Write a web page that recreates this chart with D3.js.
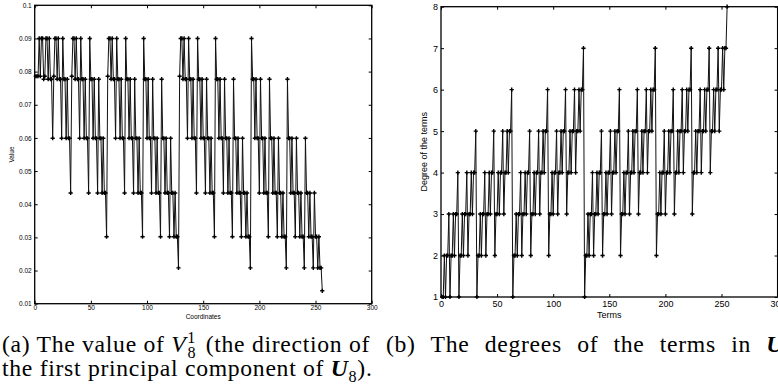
<!DOCTYPE html>
<html>
<head>
<meta charset="utf-8">
<script src="https://cdn.jsdelivr.net/npm/d3@7/dist/d3.min.js"></script>
<style>
  body { margin: 0; background: #fff; }
  svg { display: block; }
  .tick text { font-family: "Liberation Sans", Arial, sans-serif; fill: #000; }
  .tick line { stroke: #000; }
</style>
</head>
<body>
<svg id="fig" width="778" height="390"></svg>
<script>
// (a) value of V_8^1 at coordinates 1..256
const coordValues = [
  0.0786,0.0786,0.0786,0.0900,0.0786,0.0900,0.0900,0.0777,0.0786,0.0900,0.0900,0.0777,0.0900,0.0777,0.0777,0.0599,
  0.0786,0.0900,0.0900,0.0777,0.0900,0.0777,0.0777,0.0599,0.0900,0.0777,0.0777,0.0599,0.0777,0.0599,0.0599,0.0434,
  0.0786,0.0900,0.0900,0.0777,0.0900,0.0777,0.0777,0.0599,0.0900,0.0777,0.0777,0.0599,0.0777,0.0599,0.0599,0.0434,
  0.0900,0.0777,0.0777,0.0599,0.0777,0.0599,0.0599,0.0434,0.0777,0.0599,0.0599,0.0434,0.0599,0.0434,0.0434,0.0302,
  0.0786,0.0900,0.0900,0.0777,0.0900,0.0777,0.0777,0.0599,0.0900,0.0777,0.0777,0.0599,0.0777,0.0599,0.0599,0.0434,
  0.0900,0.0777,0.0777,0.0599,0.0777,0.0599,0.0599,0.0434,0.0777,0.0599,0.0599,0.0434,0.0599,0.0434,0.0434,0.0302,
  0.0900,0.0777,0.0777,0.0599,0.0777,0.0599,0.0599,0.0434,0.0777,0.0599,0.0599,0.0434,0.0599,0.0434,0.0434,0.0302,
  0.0777,0.0599,0.0599,0.0434,0.0599,0.0434,0.0434,0.0302,0.0599,0.0434,0.0434,0.0302,0.0434,0.0302,0.0302,0.0208,
  0.0786,0.0900,0.0900,0.0777,0.0900,0.0777,0.0777,0.0599,0.0900,0.0777,0.0777,0.0599,0.0777,0.0599,0.0599,0.0434,
  0.0900,0.0777,0.0777,0.0599,0.0777,0.0599,0.0599,0.0434,0.0777,0.0599,0.0599,0.0434,0.0599,0.0434,0.0434,0.0302,
  0.0900,0.0777,0.0777,0.0599,0.0777,0.0599,0.0599,0.0434,0.0777,0.0599,0.0599,0.0434,0.0599,0.0434,0.0434,0.0302,
  0.0777,0.0599,0.0599,0.0434,0.0599,0.0434,0.0434,0.0302,0.0599,0.0434,0.0434,0.0302,0.0434,0.0302,0.0302,0.0208,
  0.0900,0.0777,0.0777,0.0599,0.0777,0.0599,0.0599,0.0434,0.0777,0.0599,0.0599,0.0434,0.0599,0.0434,0.0434,0.0302,
  0.0777,0.0599,0.0599,0.0434,0.0599,0.0434,0.0434,0.0302,0.0599,0.0434,0.0434,0.0302,0.0434,0.0302,0.0302,0.0208,
  0.0777,0.0599,0.0599,0.0434,0.0599,0.0434,0.0434,0.0302,0.0599,0.0434,0.0434,0.0302,0.0434,0.0302,0.0302,0.0208,
  0.0599,0.0434,0.0434,0.0302,0.0434,0.0302,0.0302,0.0208,0.0434,0.0302,0.0302,0.0208,0.0302,0.0208,0.0208,0.0139
];

// (b) degree of terms 1..255
const termDegrees = [
  1,1,2,1,2,2,3,1,2,2,3,2,3,3,4,
  1,2,2,3,2,3,3,4,2,3,3,4,3,4,4,5,
  1,2,2,3,2,3,3,4,2,3,3,4,3,4,4,5,
  2,3,3,4,3,4,4,5,3,4,4,5,4,5,5,6,
  1,2,2,3,2,3,3,4,2,3,3,4,3,4,4,5,
  2,3,3,4,3,4,4,5,3,4,4,5,4,5,5,6,
  2,3,3,4,3,4,4,5,3,4,4,5,4,5,5,6,
  3,4,4,5,4,5,5,6,4,5,5,6,5,6,6,7,
  1,2,2,3,2,3,3,4,2,3,3,4,3,4,4,5,
  2,3,3,4,3,4,4,5,3,4,4,5,4,5,5,6,
  2,3,3,4,3,4,4,5,3,4,4,5,4,5,5,6,
  3,4,4,5,4,5,5,6,4,5,5,6,5,6,6,7,
  2,3,3,4,3,4,4,5,3,4,4,5,4,5,5,6,
  3,4,4,5,4,5,5,6,4,5,5,6,5,6,6,7,
  3,4,4,5,4,5,5,6,4,5,5,6,5,6,6,7,
  4,5,5,6,5,6,6,7,5,6,6,7,6,7,7,8
];

const xTicks = [0, 50, 100, 150, 200, 250, 300];
const yTicksA = [0.01, 0.02, 0.03, 0.04, 0.05, 0.06, 0.07, 0.08, 0.09, 0.1];
const yTicksB = [1, 2, 3, 4, 5, 6, 7, 8];

const svg = d3.select("#fig");

function panel(opt) {
  const x = d3.scaleLinear().domain([0, 300]).range([opt.left, opt.right]);
  const y = d3.scaleLinear().domain(opt.yDomain).range([opt.bottom, opt.top]);
  const g = svg.append("g");

  g.append("g").attr("transform", `translate(0,${opt.bottom})`)
    .call(d3.axisBottom(x).tickValues(xTicks).tickSize(-3).tickPadding(opt.xPad).tickFormat(d3.format("d")))
    .call(a => a.select(".domain").remove())
    .call(a => a.selectAll("text").style("font-size", opt.fs + "px"));
  g.append("g").attr("transform", `translate(0,${opt.top})`)
    .call(d3.axisTop(x).tickValues(xTicks).tickSize(-3).tickFormat(""))
    .call(a => a.select(".domain").remove());
  g.append("g").attr("transform", `translate(${opt.left},0)`)
    .call(d3.axisLeft(y).tickValues(opt.yTicks).tickSize(-3).tickPadding(opt.yPad).tickFormat(opt.yFmt))
    .call(a => a.select(".domain").remove())
    .call(a => a.selectAll("text").style("font-size", opt.fs + "px"));
  g.append("g").attr("transform", `translate(${opt.right},0)`)
    .call(d3.axisRight(y).tickValues(opt.yTicks).tickSize(-3).tickFormat(""))
    .call(a => a.select(".domain").remove());

  g.append("rect")
    .attr("x", opt.left).attr("y", opt.top)
    .attr("width", opt.right - opt.left).attr("height", opt.bottom - opt.top)
    .attr("fill", "none").attr("stroke", "#000").attr("stroke-width", 1.3);

  const line = d3.line().x(d => x(d[0])).y(d => y(d[1]));
  g.append("path").datum(opt.data)
    .attr("d", line).attr("fill", "none")
    .attr("stroke", "#111").attr("stroke-width", 1);

  g.selectAll("path.mk").data(opt.data).enter().append("path")
    .attr("class", "mk")
    .attr("transform", d => `translate(${x(d[0])},${y(d[1])})`)
    .attr("d", d3.symbol(d3.symbolCross, 10))
    .attr("fill", "#000");

  g.append("text")
    .attr("x", (opt.left + opt.right) / 2).attr("y", opt.xLabelY)
    .attr("text-anchor", "middle")
    .style("font-family", "Liberation Sans, Arial, sans-serif")
    .style("font-size", opt.fs + "px")
    .text(opt.xLabel);
  g.append("text")
    .attr("transform", `translate(${opt.yLabelX},${(opt.top + opt.bottom) / 2}) rotate(-90)`)
    .attr("text-anchor", "middle")
    .style("font-family", "Liberation Sans, Arial, sans-serif")
    .style("font-size", opt.fs + "px")
    .text(opt.yLabel);
}

panel({
  left: 34.7, right: 371.7, top: 5.3, bottom: 303.7,
  yDomain: [0.01, 0.1], yTicks: yTicksA, yFmt: d => String(d),
  data: coordValues.map((v, i) => [i + 1, v]),
  fs: 6.5, xPad: 2, yPad: 3,
  xLabel: "Coordinates", xLabelY: 318.5, yLabel: "Value", yLabelX: 14
});

panel({
  left: 441, right: 777.6, top: 6.7, bottom: 297,
  yDomain: [1, 8], yTicks: yTicksB, yFmt: d3.format("d"),
  data: termDegrees.map((v, i) => [i + 1, v]),
  fs: 9, xPad: 4, yPad: 3,
  xLabel: "Terms", xLabelY: 318, yLabel: "Degree of the terms", yLabelX: 427
});

// captions (Computer Modern is wider than Times, so add a little tracking)
const serif = "Liberation Serif, Times New Roman, serif";
function caption(fs) {
  const g = svg.append("g").attr("class", "cap")
    .style("font-family", serif).style("font-size", fs + "px")
    .style("letter-spacing", "0.7px").attr("fill", "#000");
  const s = fs * 0.68, dw = s * 0.5 + 0.7;

  const t1 = g.append("text").attr("x", 2).attr("y", 352);
  t1.append("tspan").text("(a) The value of ");
  t1.append("tspan").style("font-style", "italic").text("V");
  t1.append("tspan").style("font-size", s + "px").attr("dx", 1).attr("dy", fs * 0.25).text("8");
  t1.append("tspan").style("font-size", s + "px").attr("dx", -dw).attr("dy", -fs * 0.62).text("1");
  t1.append("tspan").attr("dy", fs * 0.37).attr("dx", 3).text(" (the direction of");

  const t2 = g.append("text").attr("x", 2).attr("y", 376);
  t2.append("tspan").text("the first principal component of ");
  t2.append("tspan").style("font-style", "italic").style("font-weight", "bold").text("U");
  t2.append("tspan").style("font-size", s + "px").attr("dy", fs * 0.25).text("8");
  t2.append("tspan").attr("dy", -fs * 0.25).text(").");

  const t3 = g.append("text").attr("x", 386).attr("y", 352);
  t3.append("tspan").text("(b) The degrees of the terms in ");
  t3.append("tspan").style("font-style", "italic").style("font-weight", "bold").text("U");
  // justified line: stretch the inter-word spaces
  const extra = 398 - t3.node().getComputedTextLength();
  t3.style("word-spacing", Math.max(0, extra / 7) + "px");
  return t1.node().getComputedTextLength();
}
let w = caption(20);
svg.selectAll("g.cap").remove();
caption(20 * 378 / w);
</script>
</body>
</html>
